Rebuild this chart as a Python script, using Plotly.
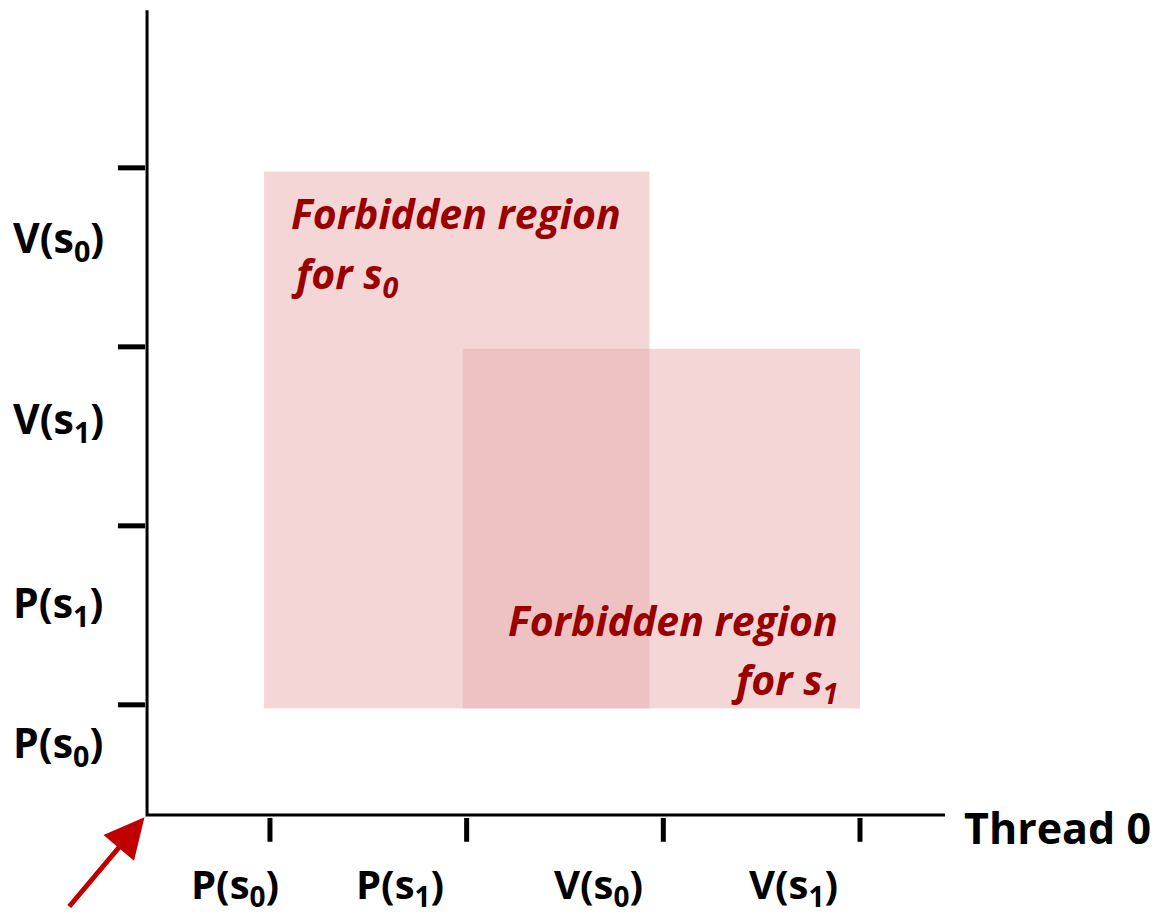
import plotly.graph_objects as go

# ---- data ----
origin = [0.375, 0.385]
x_tick_pos = [1, 2, 3, 4]
y_tick_pos = [1, 2, 3, 4]
x_labels = ["P(s<sub>0</sub>)", "P(s<sub>1</sub>)", "V(s<sub>0</sub>)", "V(s<sub>1</sub>)"]
x_label_pos = [0.82, 1.66, 2.67, 3.66]
y_labels = ["P(s<sub>0</sub>)", "P(s<sub>1</sub>)", "V(s<sub>1</sub>)", "V(s<sub>0</sub>)"]
y_label_pos = [0.78, 1.56, 2.59, 3.60]
region_s0_x = [0.97, 2.93]
region_s0_y = [0.98, 3.98]
region_s1_x = [1.98, 4.0]
region_s1_y = [0.98, 2.99]
axis_x_end = 4.432
axis_y_end = 4.88
x_title = "Thread 0"

FONT = "Open Sans"
BLACK = "#000000"
DARKRED = "#990000"
ARROWRED = "#C00000"
FILL = "rgba(233,171,173,0.49)"

fig = go.Figure()

# regions
for xs, ys in [(region_s0_x, region_s0_y), (region_s1_x, region_s1_y)]:
    fig.add_shape(type="rect", xref="x", yref="y", x0=xs[0], x1=xs[1], y0=ys[0], y1=ys[1],
                  fillcolor=FILL, line=dict(width=0), layer="below")

# axis lines
fig.add_trace(go.Scatter(x=[origin[0], origin[0], axis_x_end], y=[axis_y_end, origin[1], origin[1]],
                         mode="lines", line=dict(color=BLACK, width=3), hoverinfo="skip"))

# x ticks
xt_x, xt_y = [], []
for t in x_tick_pos:
    xt_x += [t, t, None]
    xt_y += [origin[1] - 0.017, origin[1] - 0.15, None]
fig.add_trace(go.Scatter(x=xt_x, y=xt_y, mode="lines", line=dict(color=BLACK, width=5), hoverinfo="skip"))

# y ticks
yt_x, yt_y = [], []
for t in y_tick_pos:
    yt_x += [origin[0] - 0.148, origin[0] - 0.01, None]
    yt_y += [t, t, None]
fig.add_trace(go.Scatter(x=yt_x, y=yt_y, mode="lines", line=dict(color=BLACK, width=5), hoverinfo="skip"))

ann = []
for lab, xp in zip(x_labels, x_label_pos):
    ann.append(dict(x=xp, y=-0.01, xref="x", yref="y", text="<b>%s</b>" % lab, showarrow=False,
                    font=dict(family=FONT, size=40, color=BLACK), xanchor="center", yanchor="middle"))
for lab, yp in zip(y_labels, y_label_pos):
    ann.append(dict(x=-0.077, y=yp, xref="x", yref="y", text="<b>%s</b>" % lab, showarrow=False,
                    font=dict(family=FONT, size=41, color=BLACK), xanchor="center", yanchor="middle"))

ann.append(dict(x=4.518, y=0.312, xref="x", yref="y", text="<b>%s</b>" % x_title, showarrow=False,
                font=dict(family=FONT, size=43, color=BLACK), xanchor="left", yanchor="middle"))

rfont = dict(family=FONT, size=41, color=DARKRED)
ann.append(dict(x=1.095, y=3.748, xref="x", yref="y", text="<b><i>Forbidden region</i></b>",
                showarrow=False, font=rfont, xanchor="left", yanchor="middle"))
ann.append(dict(x=1.095, y=3.40, xref="x", yref="y", text="<b><i>for s<sub>0</sub></i></b>",
                showarrow=False, font=rfont, xanchor="left", yanchor="middle"))
ann.append(dict(x=3.898, y=1.474, xref="x", yref="y", text="<b><i>Forbidden region</i></b>",
                showarrow=False, font=rfont, xanchor="right", yanchor="middle"))
ann.append(dict(x=3.898, y=1.13, xref="x", yref="y", text="<b><i>for s<sub>1</sub></i></b>",
                showarrow=False, font=rfont, xanchor="right", yanchor="middle"))

# red arrow pointing at origin
ann.append(dict(x=0.362, y=0.372, ax=-0.027, ay=-0.135, xref="x", yref="y", axref="x", ayref="y",
                text="", showarrow=True, arrowhead=2, arrowsize=1.6, arrowwidth=5, arrowcolor=ARROWRED))

# ranges compensate for the 8px page margin
fig.update_layout(
    width=1159, height=917,
    margin=dict(l=0, r=0, t=0, b=0),
    paper_bgcolor="white", plot_bgcolor="white",
    showlegend=False,
    xaxis=dict(range=[-0.332, 5.561], visible=False, fixedrange=True),
    yaxis=dict(range=[-0.230, 4.893], visible=False, fixedrange=True),
    annotations=ann,
)

fig.write_html("out.html")
